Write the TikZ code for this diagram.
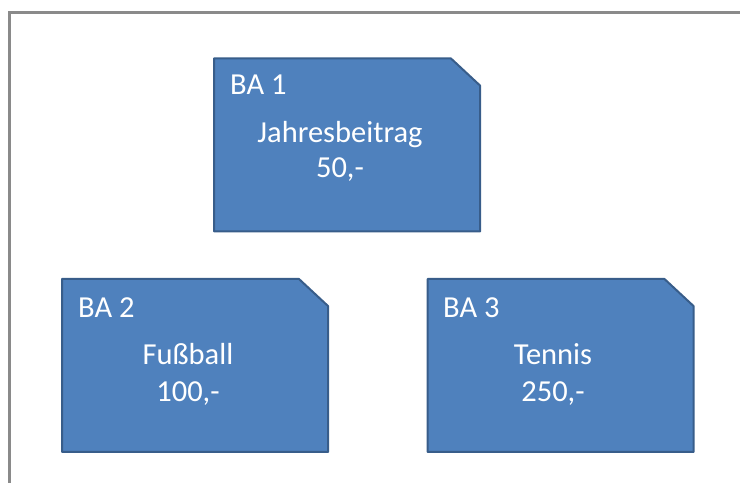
\documentclass[tikz,border=0pt]{standalone}
\usepackage{fontspec}
\setmainfont{Carlito}
\definecolor{boxfill}{HTML}{4F81BD}
\definecolor{boxline}{HTML}{385D8A}
\definecolor{framegray}{HTML}{8A8A8A}
\tikzset{
  cardframe/.style={minimum width=266pt, minimum height=173pt, inner sep=0pt, outer sep=0pt},
  cardshape/.style={fill=boxfill, draw=boxline, line width=2pt, line join=round},
  cardtext/.style={text=white, font=\fontsize{30.5}{36}\selectfont, inner sep=0pt, align=center},
  cardtag/.style={cardtext, anchor=base west},
  framestyle/.style={draw=framegray, line width=3pt}
}
% a card: rectangle with its north-east corner cut off
\newcommand{\chamfercard}[1]{%
  \filldraw[cardshape] (#1.north west) -- ([xshift=-29pt]#1.north east)
    -- ([yshift=-27pt]#1.north east) -- (#1.south east) -- (#1.south west) -- cycle;}
\begin{document}
\begin{tikzpicture}[x=1pt, y=-1pt]
\useasboundingbox (0,0) rectangle (740,486);
% outer frame, top and left edge only
\coordinate (ftl) at (9,12.5);
\coordinate (ftr) at (740,12.5);
\coordinate (fbl) at (9,483);
\draw[framestyle] (ftr) -- (ftl) -- (fbl);

% three cards
\node[cardframe] (b1) at (347,145) {};
\node[cardframe] (b2) at (195,365.5) {};
\node[cardframe] (b3) at (560.5,365.5) {};
\chamfercard{b1}
\chamfercard{b2}
\chamfercard{b3}

% card labels
\node[cardtag] (t1) at (230,95) {BA 1};
\node[cardtext, anchor=base] (n1) at (340,143) {Jahresbeitrag};
\node[cardtext, anchor=base] (v1) at (340,178) {50,-};

\node[cardtag] (t2) at (78,318) {BA 2};
\node[cardtext, anchor=base] (n2) at (188,365) {Fußball};
\node[cardtext, anchor=base] (v2) at (188,402) {100,-};

\node[cardtag] (t3) at (443,318) {BA 3};
\node[cardtext, anchor=base] (n3) at (553,365) {Tennis};
\node[cardtext, anchor=base] (v3) at (553,402) {250,-};
\end{tikzpicture}
\end{document}
